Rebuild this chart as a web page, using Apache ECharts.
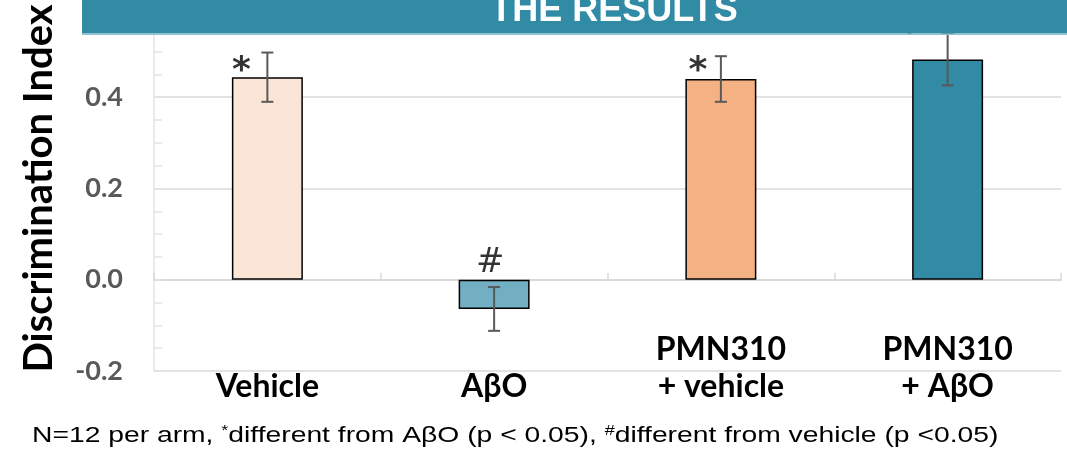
<!DOCTYPE html>
<html>
<head>
<meta charset="utf-8">
<script src="https://cdn.jsdelivr.net/npm/echarts@6/dist/echarts.min.js"></script>
<style>
html,body{margin:0;padding:0;background:#fff;}
#chart{width:1067px;height:453px;}
</style>
</head>
<body>
<div id="chart"></div>
<script>
// ---- data ----
const categories = ['Vehicle', 'AβO', 'PMN310\n+ vehicle', 'PMN310\n+ AβO'];
const means = [0.444, -0.064, 0.440, 0.483];
const errors = [0.054, 0.048, 0.050, 0.057];
const annotations = ['*', '#', '*', '*'];
const annotationLevels = [0.456, 0.036, 0.456, 0.538];
const yTicks = [-0.2, 0.0, 0.2, 0.4, 0.6];
const bannerTitle = 'THE RESULTS';
const yTitle = 'Discrimination Index';
const footnote = '{n|N=12 per arm, }{sup|*}{n|different from AβO (p < 0.05), }{sup|#}{n|different from vehicle (p <0.05)}';

// ---- styles ----
const barColors = ['#FBE5D6', '#72AFC2', '#F4B183', '#318BA5'];
const annDx = [-26, -4, -23, -38];
const annSize = [36, 34, 36, 36];

const chart = echarts.init(document.getElementById('chart'), null, {renderer: 'canvas'});

const option = {
  backgroundColor: '#ffffff',
  animation: false,
  grid: { left: 154, right: 6, top: 6, bottom: 82, containLabel: false, outerBoundsMode: 'none' },
  xAxis: [
    {
      type: 'category',
      data: categories,
      position: 'bottom',
      axisLine: { show: false, onZero: false },
      axisTick: { show: false },
      axisLabel: {
        interval: 0,
        fontFamily: 'Lato',
        fontWeight: 'bold',
        fontSize: 32,
        color: '#000000',
        lineHeight: 37,
        verticalAlign: 'bottom',
        margin: 34
      }
    },
    {
      type: 'category',
      data: categories,
      position: 'bottom',
      axisLine: { show: true, onZero: true, lineStyle: { color: '#D9D9D9', width: 2 } },
      axisTick: { show: true, inside: true, length: 7, lineStyle: { color: '#D9D9D9', width: 1.5 } },
      axisLabel: { show: false },
      splitLine: { show: false }
    }
  ],
  yAxis: {
    type: 'value',
    min: yTicks[0],
    max: yTicks[yTicks.length - 1],
    interval: 0.2,
    name: yTitle,
    nameLocation: 'middle',
    nameRotate: 90,
    nameGap: 95,
    nameTextStyle: { fontFamily: 'Lato', fontWeight: 'bold', fontSize: 40, color: '#000000' },
    axisLine: { show: true, lineStyle: { color: '#E3E3E3', width: 1.5 } },
    axisTick: { show: true, inside: true, length: 8, lineStyle: { color: '#E3E3E3', width: 1.5 } },
    minorTick: { show: true, splitNumber: 4, length: 8, lineStyle: { color: '#E3E3E3', width: 1.5 } },
    axisLabel: {
      margin: 31,
      fontFamily: 'Lato',
      fontWeight: 'bold',
      fontSize: 27,
      color: '#595959',
      formatter: v => v.toFixed(1)
    },
    splitLine: { show: true, lineStyle: { color: '#D9D9D9', width: 1.5 } }
  },
  series: [
    {
      type: 'bar',
      xAxisIndex: 0,
      barWidth: '31.3%',
      data: means.map((v, i) => ({ value: v, itemStyle: { color: barColors[i] } })),
      itemStyle: { borderColor: '#000000', borderWidth: 1.5 },
      z: 2
    },
    {
      type: 'custom',
      xAxisIndex: 0,
      z: 5,
      data: means.map((m, i) => [i, m, errors[i]]),
      renderItem: function (params, api) {
        const i = api.value(0), m = api.value(1), e = api.value(2);
        const top = api.coord([i, m + e]);
        const bot = api.coord([i, m - e]);
        const hw = 6;
        const st = { stroke: '#595959', lineWidth: 2 };
        return {
          type: 'group',
          children: [
            { type: 'line', shape: { x1: top[0], y1: top[1], x2: bot[0], y2: bot[1] }, style: st },
            { type: 'line', shape: { x1: top[0] - hw, y1: top[1], x2: top[0] + hw, y2: top[1] }, style: st },
            { type: 'line', shape: { x1: bot[0] - hw, y1: bot[1], x2: bot[0] + hw, y2: bot[1] }, style: st }
          ]
        };
      }
    },
    {
      type: 'scatter',
      xAxisIndex: 0,
      symbolSize: 0,
      z: 6,
      data: annotationLevels.map((y, i) => ({
        value: [i, y],
        label: {
          show: true,
          position: 'inside',
          offset: [annDx[i], 0],
          formatter: annotations[i],
          fontFamily: 'DejaVu Sans',
          fontWeight: annotations[i] === '*' ? 'bold' : 'normal',
          fontSize: annSize[i],
          color: '#000000'
        }
      }))
    }
  ],
  graphic: [
    {
      type: 'rect',
      z: 100,
      shape: { x: 82, y: 0, width: 985, height: 33.5 },
      style: { fill: '#318BA5' }
    },
    {
      type: 'rect',
      z: 100,
      shape: { x: 82, y: 33.5, width: 985, height: 1.5 },
      style: { fill: '#8CC2D2' }
    },
    {
      type: 'text',
      z: 101,
      x: 614,
      y: 29,
      style: {
        text: bannerTitle,
        fill: '#ffffff',
        font: 'bold 36px "Liberation Sans"',
        textAlign: 'center',
        textVerticalAlign: 'bottom'
      }
    },
    {
      type: 'text',
      z: 101,
      x: 32,
      y: 436,
      scaleX: 1.285,
      scaleY: 1,
      style: {
        text: footnote,
        fill: '#000000',
        fontFamily: 'Liberation Sans',
        fontSize: 22,
        textAlign: 'left',
        textVerticalAlign: 'middle',
        rich: {
          n: { fontFamily: 'Liberation Sans', fontSize: 22, lineHeight: 24, fill: '#000000' },
          sup: { fontFamily: 'Liberation Sans', fontSize: 14, lineHeight: 14, verticalAlign: 'top', fill: '#000000' }
        }
      }
    }
  ]
};
chart.setOption(option);
</script>
</body>
</html>
